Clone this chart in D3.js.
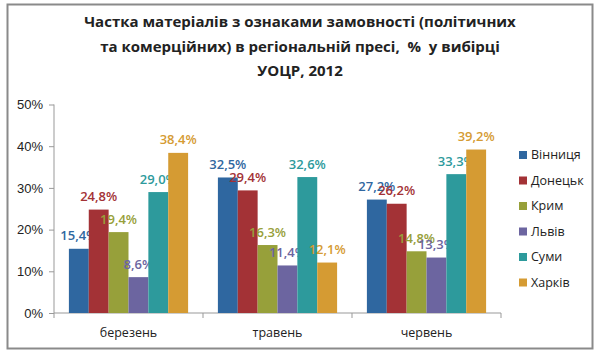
<!DOCTYPE html>
<html>
<head>
<meta charset="utf-8">
<script src="https://cdn.jsdelivr.net/npm/d3@7"></script>
<style>
  body { margin: 0; background: #fff; }
  svg { display: block; font-family: "Open Sans", "Noto Sans", sans-serif; }
</style>
</head>
<body>
<div id="chart"></div>
<script>
// months on the x axis
const months = ['березень', 'травень', 'червень'];
// cities (series)
const cities = ['Вінниця', 'Донецьк', 'Крим', 'Львів', 'Суми', 'Харків'];
const colors = ['#2f67a0', '#a33236', '#97a03a', '#6c65a0', '#2d9a9c', '#d59b33'];
// values per city, one per month (%)
const vinnytsia = [15.4, 32.5, 27.2];
const donetsk = [24.8, 29.4, 26.2];
const krym = [19.4, 16.3, 14.8];
const lviv = [8.6, 11.4, 13.3];
const sumy = [29.0, 32.6, 33.3];
const kharkiv = [38.4, 12.1, 39.2];
const yTicks = [0, 10, 20, 30, 40, 50];
const titleLines = [
    'Частка матеріалів з ознаками замовності (політичних',
    'та комерційних) в регіональній пресі,  %  у вибірці',
    'УОЦР, 2012'
];

const series = [vinnytsia, donetsk, krym, lviv, sumy, kharkiv];

let width = 600, height = 358;
let svg = d3.select('#chart').append('svg')
    .attr('width', width)
    .attr('height', height);

// outer frame
svg.append('rect')
    .attr('x', 7.5).attr('y', 4.5)
    .attr('width', 585).attr('height', 344)
    .attr('fill', '#fff')
    .attr('stroke', '#8a8a8a')
    .attr('stroke-width', 2);

// title
svg.append('g').selectAll('text')
    .data(titleLines)
    .join('text')
    .attr('x', 300)
    .attr('y', (d, i) => 27 + i * 24.5)
    .attr('text-anchor', 'middle')
    .attr('font-size', 15)
    .attr('font-weight', 'bold')
    .attr('fill', '#222')
    .style('white-space', 'pre')
    .text(d => d);

let plot = {left: 54, right: 501, top: 104.5, bottom: 313};

let x0 = d3.scaleBand().domain(months)
    .range([plot.left, plot.right])
    .paddingInner(0.2).paddingOuter(0.1);
let x1 = d3.scaleBand().domain(cities)
    .range([0, x0.bandwidth()]);
let y = d3.scaleLinear().domain([0, 50]).range([plot.bottom, plot.top]);

// y axis
let yAxis = svg.append('g')
    .attr('transform', 'translate(' + plot.left + ',0)')
    .call(d3.axisLeft(y).tickValues(yTicks).tickSize(5).tickPadding(6).tickFormat(d => d + '%'));
yAxis.select('.domain').attr('stroke', '#999').attr('d', 'M0,' + plot.bottom + 'V' + plot.top);
yAxis.selectAll('.tick line').attr('stroke', '#999');
yAxis.selectAll('.tick text').attr('font-size', 13).attr('fill', '#222').attr('font-family', 'inherit');

// x axis with ticks between categories
let xAxis = svg.append('g')
    .attr('transform', 'translate(0,' + plot.bottom + ')');
xAxis.append('line')
    .attr('x1', plot.left).attr('x2', plot.right)
    .attr('stroke', '#999');
let step = x0.step();
let boundaries = d3.range(months.length + 1).map(i => plot.left + i * step);
xAxis.selectAll('line.tk')
    .data(boundaries)
    .join('line')
    .attr('class', 'tk')
    .attr('x1', d => d).attr('x2', d => d)
    .attr('y1', 0).attr('y2', 5)
    .attr('stroke', '#999');
xAxis.selectAll('text')
    .data(months)
    .join('text')
    .attr('x', d => x0(d) + x0.bandwidth() / 2)
    .attr('y', 24)
    .attr('text-anchor', 'middle')
    .attr('font-size', 12.5)
    .attr('fill', '#222')
    .text(d => d);

// bars
let groups = svg.append('g').selectAll('g')
    .data(cities)
    .join('g')
    .attr('fill', (d, i) => colors[i]);

groups.selectAll('rect')
    .data((c, i) => series[i].map((v, j) => ({month: months[j], city: c, value: v})))
    .join('rect')
    .attr('x', d => x0(d.month) + x1(d.city))
    .attr('y', d => y(d.value))
    .attr('width', x1.bandwidth())
    .attr('height', d => y(0) - y(d.value));

// data labels
groups.selectAll('text')
    .data((c, i) => series[i].map((v, j) => ({month: months[j], city: c, value: v})))
    .join('text')
    .attr('x', d => x0(d.month) + x1(d.city) + x1.bandwidth() / 2)
    .attr('y', d => y(d.value) - 8.5)
    .attr('text-anchor', 'middle')
    .attr('font-size', 13)
    .attr('font-weight', 600)
    .text(d => d3.format('.1f')(d.value).replace('.', ',') + '%');

// legend
let legend = svg.append('g').attr('transform', 'translate(519,155)');
let items = legend.selectAll('g')
    .data(cities)
    .join('g')
    .attr('transform', (d, i) => 'translate(0,' + i * 25.5 + ')');
items.append('rect')
    .attr('x', 0).attr('y', -4)
    .attr('width', 8).attr('height', 8)
    .attr('fill', (d, i) => colors[i]);
items.append('text')
    .attr('x', 12).attr('y', 0)
    .attr('dy', '0.35em')
    .attr('font-size', 12.5)
    .attr('fill', '#222')
    .text(d => d);
</script>
</body>
</html>
